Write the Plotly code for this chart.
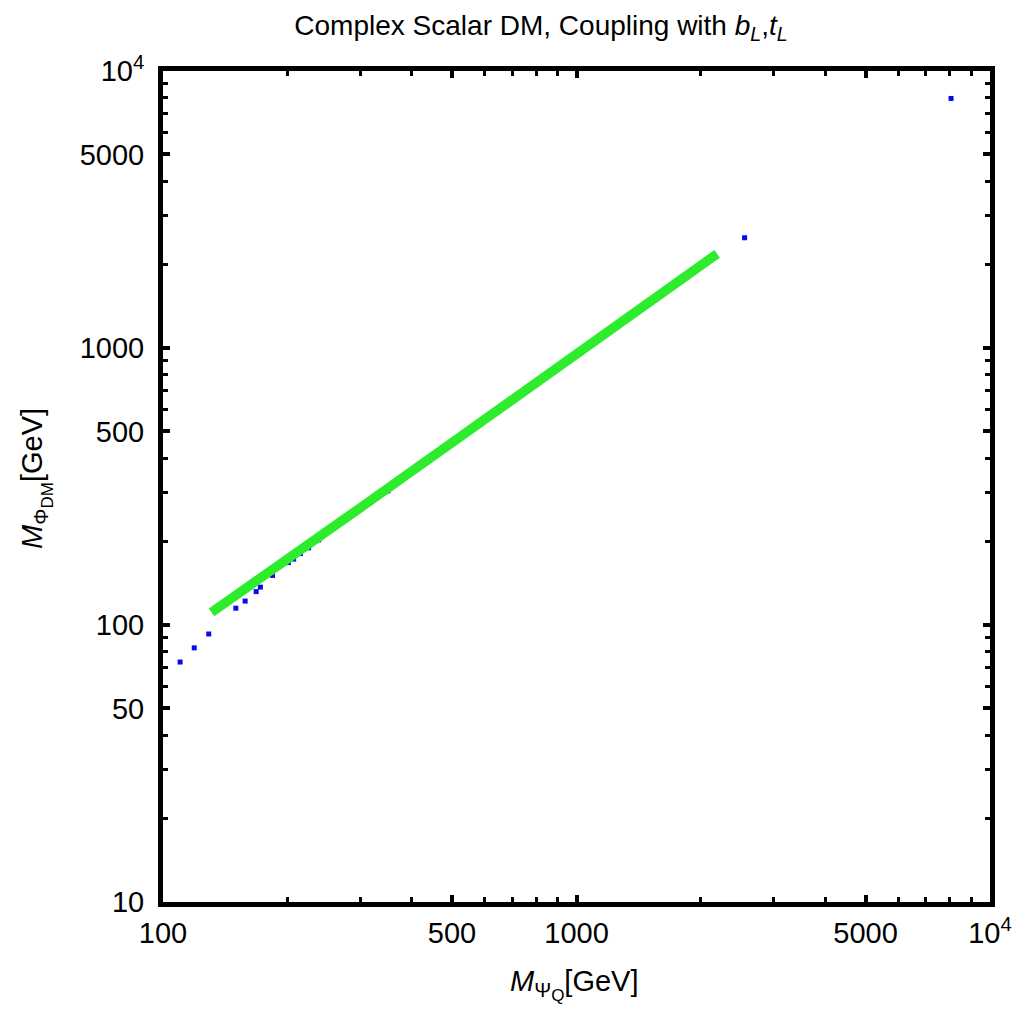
import plotly.graph_objects as go

# Blue scan points (M_PsiQ, M_PhiDM) in GeV
blue_x = [110, 119, 129, 150, 158, 168, 172, 184, 194, 201, 207, 215, 225, 238, 350, 620, 2550, 8050]
blue_y = [73.5, 82.7, 92.8, 115, 122, 132, 137, 151, 166, 168, 173, 181, 190, 203, 305, 580, 2500, 7960]

# Green band (points satisfying the relic density), read along the band
green_x = [131, 150, 200, 300, 500, 1000, 2000, 2188]
green_y = [111, 127.6, 173, 265, 455, 944, 1961, 2188]

x_tickvals = [100, 500, 1000, 5000, 10000]
x_ticktext = ["100", "500", "1000", "5000", "10<sup>4</sup>"]
y_tickvals = [10, 50, 100, 500, 1000, 5000, 10000]
y_ticktext = ["10", "50", "100", "500", "1000", "5000", "10<sup>4</sup>"]

x_minor = [200, 300, 400, 600, 700, 800, 900, 2000, 3000, 4000, 6000, 7000, 8000, 9000]
y_minor = [20, 30, 40, 60, 70, 80, 90, 200, 300, 400, 600, 700, 800, 900,
           2000, 3000, 4000, 6000, 7000, 8000, 9000]

FONT = "Liberation Sans, Arial, sans-serif"
TICK_SIZE = 29

fig = go.Figure()
fig.add_trace(go.Scatter(x=blue_x, y=blue_y, mode="markers",
                         marker=dict(symbol="square", size=5, color="rgb(10,10,235)",
                                     line=dict(width=0)),
                         showlegend=False, hoverinfo="x+y"))
fig.add_trace(go.Scatter(x=green_x, y=green_y, mode="lines",
                         line=dict(color="rgb(45,235,45)", width=9.5),
                         showlegend=False, hoverinfo="x+y"))

axis_common = dict(
    type="log", showgrid=False, zeroline=False,
    showline=True, linecolor="black", linewidth=5, mirror="allticks",
    ticks="inside", ticklen=7, tickwidth=4, tickcolor="black",
    tickfont=dict(family=FONT, size=TICK_SIZE, color="black"),
)

fig.update_xaxes(**axis_common, range=[2, 4], tickvals=x_tickvals, ticktext=x_ticktext,
                 ticklabelstandoff=1,
                 minor=dict(ticks="inside", ticklen=5, tickwidth=3, tickcolor="black",
                            tickvals=x_minor, showgrid=False))
fig.update_yaxes(**axis_common, range=[1, 4], tickvals=y_tickvals, ticktext=y_ticktext,
                 ticklabelstandoff=8,
                 minor=dict(ticks="inside", ticklen=5, tickwidth=3, tickcolor="black",
                            tickvals=y_minor, showgrid=False))

L, T, R, B = 162.5, 70.5, 990.5, 902
fig.update_layout(
    width=1025, height=1017,
    margin=dict(l=L, r=1025 - R, t=T, b=1017 - B, pad=0),
    paper_bgcolor="white", plot_bgcolor="white",
    font=dict(family=FONT, color="black"),
    title=dict(text="Complex Scalar DM, Coupling with <i>b<sub>L</sub></i>,<i>t<sub>L</sub></i>",
               x=541 / 1025, xanchor="center", xref="container",
               y=1 - 25 / 1017, yanchor="middle",
               font=dict(family=FONT, size=28, color="black")),
    annotations=[
        dict(text="<i>M</i><sub>Ψ<sub><span style='font-size:17px'>Q</span></sub></sub>[GeV]",
             xref="paper", yref="paper",
             x=(574 - L) / (R - L), y=-(985 - B) / (B - T), xanchor="center", yanchor="middle",
             showarrow=False, font=dict(family=FONT, size=29, color="black")),
        dict(text="<i>M</i><sub>Φ<sub><span style='font-size:17px'>DM</span></sub></sub>[GeV]",
             xref="paper", yref="paper",
             x=-(L - 36) / (R - L), y=(B - 478) / (B - T), xanchor="center", yanchor="middle",
             textangle=-90, showarrow=False,
             font=dict(family=FONT, size=29, color="black")),
    ],
)

fig.write_html("out.html", config={"displayModeBar": False},
               post_script="document.body.style.margin='0';")
